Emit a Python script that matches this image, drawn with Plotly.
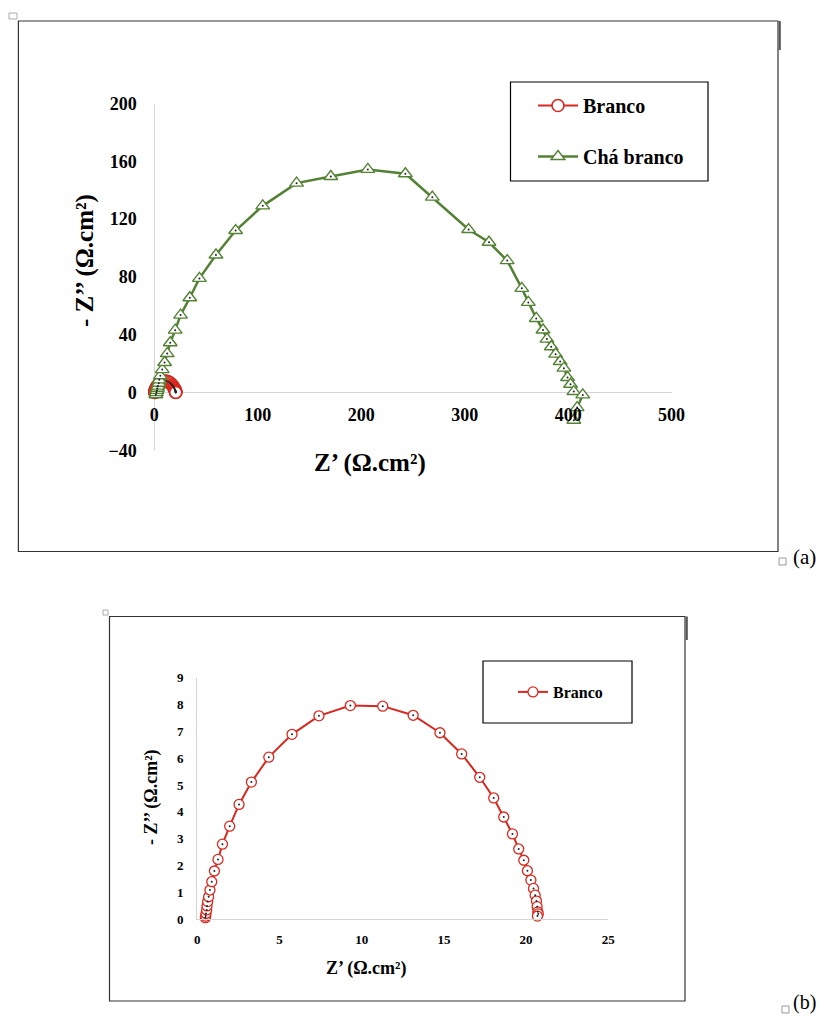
import plotly.graph_objects as go

# The page keeps the browser's 8px body margin, so the figure is sized to fit the
# 825x1024 window exactly; X()/Y() convert window pixels into paper fractions.
W, H = 825, 1024
M = 8
FW, FH = W - 2 * M, H - 2 * M


def X(r):
    return (r - M) / FW


def Y(r):
    return 1 - (r - M) / FH


# ---------------- data ----------------
# Branco (blank): Z' and -Z'' in ohm.cm2
branco_zr = [0.49, 0.51, 0.53, 0.57, 0.59, 0.63, 0.69, 0.77, 0.88, 1.04, 1.26, 1.53, 1.97,
             2.54, 3.29, 4.35, 5.76, 7.40, 9.31, 11.28, 13.13, 14.76, 16.08, 17.18, 18.03,
             18.64, 19.17, 19.55, 19.86, 20.08, 20.29, 20.45, 20.55, 20.63, 20.67, 20.71,
             20.74, 20.69]
branco_zi = [0.06, 0.12, 0.22, 0.35, 0.50, 0.66, 0.84, 1.09, 1.40, 1.80, 2.23, 2.80, 3.47,
             4.28, 5.11, 6.04, 6.89, 7.58, 7.96, 7.94, 7.60, 6.95, 6.16, 5.29, 4.52,
             3.81, 3.18, 2.62, 2.20, 1.81, 1.46, 1.15, 0.90, 0.68, 0.47, 0.28,
             0.20, 0.12]

# Chá branco (white tea)
cha_zr = [1.5, 2.0, 2.5, 3.0, 3.5, 4.3, 4.8, 5.8, 7.7, 10.0, 12.5, 15.4, 20.2, 25.4, 34.3,
          43.6, 59.6, 78.6, 104.8, 137.5, 170.6, 206.4, 242.7, 268.7, 303.8, 323.5, 341.1,
          355.2, 361.5, 369.2, 375.7, 379.5, 383.7, 387.9, 392.3, 395.9, 399.4, 402.3,
          405.5, 414.1, 408.7, 405.5]
cha_zi = [-1.5, 0.0, 1.5, 3.0, 4.5, 6.5, 8.8, 11.6, 15.9, 20.8, 27.0, 34.5, 43.2, 53.6, 65.6,
          79.0, 95.2, 112.1, 129.2, 144.9, 149.5, 154.4, 151.4, 135.2, 112.8, 104.0, 91.3,
          72.1, 62.4, 51.3, 43.3, 37.0, 31.7, 26.6, 21.5, 16.9, 10.4, 5.8,
          0.7, -1.6, -10.4, -19.1]

top_x_ticks = [0, 100, 200, 300, 400, 500]
top_y_ticks = [-40, 0, 40, 80, 120, 160, 200]
bot_x_ticks = [0, 5, 10, 15, 20, 25]
bot_y_ticks = [0, 1, 2, 3, 4, 5, 6, 7, 8, 9]

series_names = ["Branco", "Chá branco"]
x_title = "Z’ (Ω.cm²)"
y_title = "- Z’’ (Ω.cm²)"

RED = "#d8281f"
GREEN = "#548235"
FONT = "Liberation Serif"
AXC = "#d4d4d4"

fig = go.Figure()

# ---------- (a) top chart ----------
fig.add_trace(go.Scatter(
    x=branco_zr, y=branco_zi, mode="lines+markers", name=series_names[0],
    line=dict(color=RED, width=2),
    marker=dict(symbol="circle", size=12, color="white", line=dict(color=RED, width=1.6)),
    cliponaxis=False, xaxis="x", yaxis="y", legend="legend", legendgroup="g1"))
fig.add_trace(go.Scatter(
    x=branco_zr, y=branco_zi, mode="markers", showlegend=False, hoverinfo="skip",
    marker=dict(size=2, color="#222222"), cliponaxis=False, xaxis="x", yaxis="y"))
fig.add_trace(go.Scatter(
    x=cha_zr, y=cha_zi, mode="lines+markers", name=series_names[1],
    line=dict(color=GREEN, width=2.5),
    marker=dict(symbol="triangle-up", size=12, color="white", line=dict(color=GREEN, width=1.4)),
    cliponaxis=False, xaxis="x", yaxis="y", legend="legend", legendgroup="g2"))
fig.add_trace(go.Scatter(
    x=cha_zr, y=cha_zi, mode="markers", showlegend=False, hoverinfo="skip",
    marker=dict(size=2, color="#222222"), cliponaxis=False, xaxis="x", yaxis="y"))

# ---------- (b) bottom chart ----------
fig.add_trace(go.Scatter(
    x=branco_zr, y=branco_zi, mode="lines+markers", name=series_names[0],
    line=dict(color=RED, width=2),
    marker=dict(symbol="circle", size=10, color="white", line=dict(color=RED, width=1.3)),
    cliponaxis=False, xaxis="x2", yaxis="y2", legend="legend2"))
fig.add_trace(go.Scatter(
    x=branco_zr, y=branco_zi, mode="markers", showlegend=False, hoverinfo="skip",
    marker=dict(size=2, color="#222222"), cliponaxis=False, xaxis="x2", yaxis="y2"))

tick_common = dict(showgrid=False, ticks="outside", tickcolor="rgba(0,0,0,0)",
                   fixedrange=True, automargin=False)

fig.update_layout(
    width=FW, height=FH, autosize=False, margin=dict(l=0, r=0, t=0, b=0),
    paper_bgcolor="white", plot_bgcolor="rgba(0,0,0,0)",
    font=dict(family=FONT, color="black"),
    showlegend=True,
    xaxis=dict(domain=[X(154.3), X(671.6)], range=[0, 500], tickvals=top_x_ticks,
               anchor="free", position=Y(392.7), ticklen=6,
               zeroline=True, zerolinecolor=AXC, zerolinewidth=1.2, showline=False,
               tickfont=dict(family=FONT, size=18, weight="bold", color="black"),
               **tick_common),
    yaxis=dict(domain=[Y(450.4), Y(103.5)], range=[-40, 200], tickvals=top_y_ticks,
               anchor="x", ticklen=13,
               zeroline=True, zerolinecolor=AXC, zerolinewidth=1.2, showline=False,
               tickfont=dict(family=FONT, size=18, weight="bold", color="black"),
               **tick_common),
    xaxis2=dict(domain=[X(197.3), X(608.3)], range=[0, 25], tickvals=bot_x_ticks,
                anchor="y2", ticklen=8, showline=True, linecolor=AXC, linewidth=1.2,
                zeroline=False,
                tickfont=dict(family=FONT, size=13, weight="bold", color="black"),
                **tick_common),
    yaxis2=dict(domain=[Y(919.3), Y(677.7)], range=[0, 9], tickvals=bot_y_ticks,
                anchor="x2", ticklen=10, showline=True, linecolor=AXC, linewidth=1.2,
                zeroline=False,
                tickfont=dict(family=FONT, size=13, weight="bold", color="black"),
                **tick_common),
    legend=dict(x=X(533), y=Y(86), xanchor="left", yanchor="top",
                bgcolor="rgba(0,0,0,0)", borderwidth=0, tracegroupgap=22,
                itemwidth=40,
                font=dict(family=FONT, size=20, weight="bold", color="black")),
    legend2=dict(x=X(513), y=Y(675), xanchor="left", yanchor="top",
                 bgcolor="rgba(0,0,0,0)", borderwidth=0,
                 font=dict(family=FONT, size=16, weight="bold", color="black")),
)

shapes = [
    # chart (a) frame
    dict(type="rect", xref="paper", yref="paper", x0=X(18.4), x1=X(778), y0=Y(551.5), y1=Y(21),
         line=dict(color="#333333", width=1.2)),
    dict(type="line", xref="paper", yref="paper", x0=X(779.8), x1=X(779.8), y0=Y(50), y1=Y(21),
         line=dict(color="#555555", width=2)),
    # legend (a) box
    dict(type="rect", xref="paper", yref="paper", x0=X(510.5), x1=X(708), y0=Y(181), y1=Y(82),
         line=dict(color="black", width=1.2)),
    # chart (b) frame
    dict(type="rect", xref="paper", yref="paper", x0=X(109.5), x1=X(685), y0=Y(1001), y1=Y(616.5),
         line=dict(color="#333333", width=1.2)),
    dict(type="line", xref="paper", yref="paper", x0=X(686.8), x1=X(686.8), y0=Y(640), y1=Y(616.5),
         line=dict(color="#555555", width=2)),
    # legend (b) box
    dict(type="rect", xref="paper", yref="paper", x0=X(483), x1=X(632), y0=Y(723), y1=Y(661),
         line=dict(color="black", width=1.2)),
    # small anchor squares
    dict(type="rect", xref="paper", yref="paper", x0=X(779), x1=X(786), y0=Y(565), y1=Y(558),
         line=dict(color="#999999", width=1)),
    dict(type="rect", xref="paper", yref="paper", x0=X(782), x1=X(789), y0=Y(1013), y1=Y(1006),
         line=dict(color="#999999", width=1)),
    dict(type="rect", xref="paper", yref="paper", x0=X(9), x1=X(17), y0=Y(19), y1=Y(13),
         line=dict(color="#aaaaaa", width=1)),
    dict(type="rect", xref="paper", yref="paper", x0=X(103), x1=X(108), y0=Y(615), y1=Y(610),
         line=dict(color="#aaaaaa", width=1)),
]
fig.update_layout(shapes=shapes)

ann = [
    dict(text=x_title, x=X(370), y=Y(463), font=dict(size=25, weight="bold")),
    dict(text=y_title, x=X(85), y=Y(261), textangle=-90, font=dict(size=25, weight="bold")),
    dict(text=x_title, x=X(366), y=Y(968), font=dict(size=18, weight="bold")),
    dict(text=y_title, x=X(151), y=Y(797), textangle=-90, font=dict(size=18, weight="bold")),
    dict(text="(a)", x=X(804), y=Y(557), font=dict(size=21)),
    dict(text="(b)", x=X(804), y=Y(1002), font=dict(size=20)),
]
for a in ann:
    a.update(xref="paper", yref="paper", showarrow=False, xanchor="center", yanchor="middle")
    a["font"].update(family=FONT, color="black")
fig.update_layout(annotations=ann)

fig.write_html("out.html", config={"displayModeBar": False})
